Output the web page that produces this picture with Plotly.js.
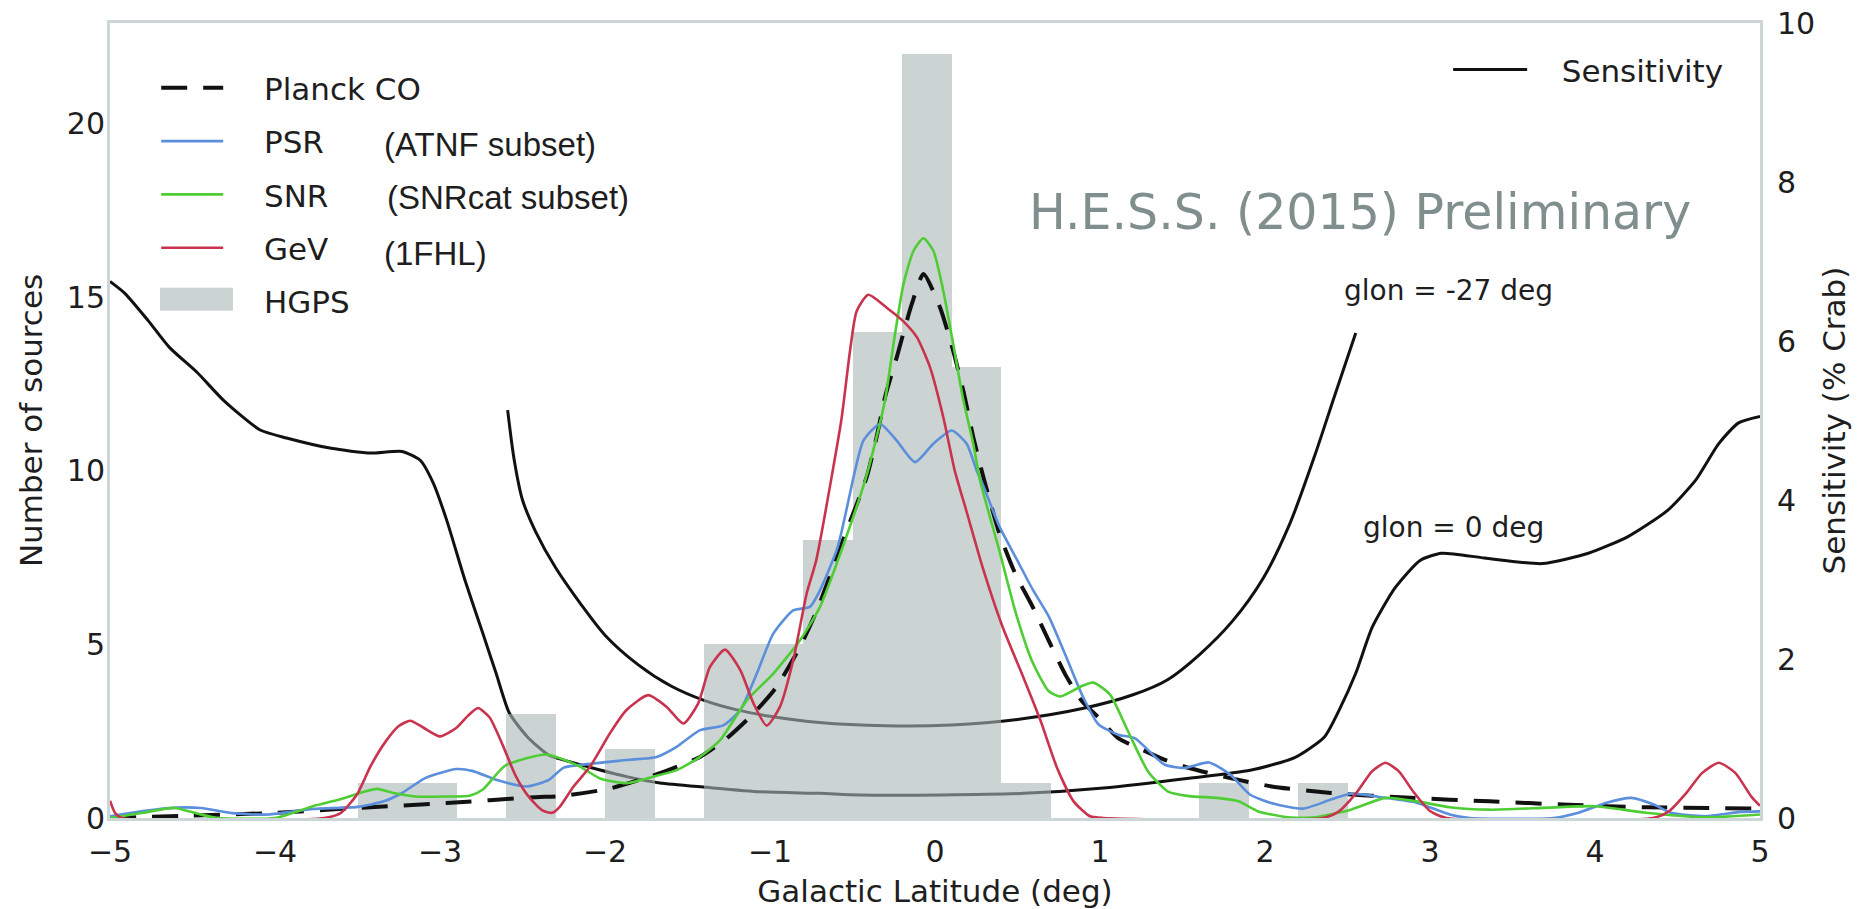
<!DOCTYPE html>
<html>
<head>
<meta charset="utf-8">
<script src="https://cdn.plot.ly/plotly-3.0.1.min.js"></script>
<style>
  html, body { margin: 0; padding: 0; background: #ffffff; }
  #chart { width: 1872px; height: 909px; }
</style>
</head>
<body>
<div id="chart"></div>
<script>
// HGPS source counts per 0.3 deg latitude bin (non-empty bins only, bin centres)
const hgpsLat = [-3.35, -3.05, -2.45, -1.85, -1.25, -0.95, -0.65, -0.35, -0.05, 0.25, 0.55, 1.75, 2.35];
const hgpsCount = [1, 1, 3, 2, 5, 5, 8, 14, 22, 13, 1, 1, 1];
const hgpsBinWidth = 0.3;

// Planck CO latitude profile (scaled to source counts)
const coLat = [-5, -4.5, -4.04, -3.5, -2.96, -2.42, -2.27, -1.97, -1.667, -1.424, -1.263, -1.1, -0.96, -0.818, -0.707, -0.55, -0.414, -0.354, -0.303, -0.232, -0.141, -0.07, 0.03, 0.11, 0.172, 0.232, 0.293, 0.39, 0.49, 0.59, 0.69, 0.79, 0.89, 0.99, 1.11, 1.24, 1.39, 1.54, 1.79, 2.04, 2.4, 2.88, 3.36, 3.84, 4.31, 5];
const coVal = [0, 0.07, 0.14, 0.29, 0.43, 0.6, 0.63, 0.85, 1.29, 1.76, 2.29, 3.01, 3.78, 4.93, 6.08, 8.1, 9.82, 10.97, 12.12, 13.27, 14.8, 15.67, 14.71, 13.46, 12.3, 10.97, 9.82, 8.2, 7.0, 6.1, 5.1, 4.13, 3.37, 2.9, 2.3, 2.0, 1.68, 1.44, 1.15, 0.91, 0.72, 0.58, 0.48, 0.38, 0.31, 0.27];

// Pulsars (ATNF subset)
const psrLat = [-5, -4.8, -4.6, -4.45, -4.26, -4.04, -3.77, -3.5, -3.34, -3.23, -3.09, -2.9, -2.8, -2.66, -2.47, -2.34, -2.25, -2.07, -1.869, -1.687, -1.566, -1.424, -1.283, -1.18, -1.08, -0.98, -0.859, -0.758, -0.697, -0.59, -0.485, -0.434, -0.333, -0.232, -0.121, -0.01, 0.101, 0.192, 0.253, 0.29, 0.39, 0.49, 0.59, 0.69, 0.79, 0.89, 0.99, 1.11, 1.21, 1.39, 1.51, 1.66, 1.79, 1.91, 2.06, 2.23, 2.4, 2.52, 2.73, 2.92, 3.12, 3.24, 3.75, 3.9, 4.07, 4.22, 4.36, 4.46, 4.67, 4.87, 5];
const psrVal = [0.05, 0.2, 0.3, 0.29, 0.14, 0.1, 0.26, 0.32, 0.48, 0.72, 1.15, 1.41, 1.35, 1.1, 0.91, 1.1, 1.45, 1.57, 1.67, 1.76, 2.05, 2.53, 2.67, 3.11, 4.16, 5.31, 5.98, 6.08, 6.56, 7.8, 10.0, 10.87, 11.35, 10.87, 10.25, 10.78, 11.16, 10.78, 10.0, 9.6, 8.4, 7.5, 6.6, 5.8, 4.7, 3.56, 2.7, 2.4, 2.3, 1.54, 1.44, 1.6, 1.25, 0.67, 0.4, 0.27, 0.53, 0.7, 0.58, 0.44, 0.1, 0, 0, 0.15, 0.44, 0.58, 0.38, 0.15, 0.05, 0.17, 0.19];

// Supernova remnants (SNRcat subset)
const snrLat = [-5, -4.8, -4.61, -4.45, -4.35, -4.0, -3.77, -3.61, -3.45, -3.38, -3.28, -3.15, -2.96, -2.82, -2.74, -2.61, -2.47, -2.35, -2.273, -2.152, -2.03, -1.869, -1.707, -1.566, -1.424, -1.303, -1.14, -0.98, -0.818, -0.697, -0.56, -0.424, -0.374, -0.303, -0.242, -0.19, -0.13, -0.07, -0.01, 0.05, 0.11, 0.172, 0.232, 0.273, 0.39, 0.49, 0.59, 0.69, 0.76, 0.89, 0.96, 1.06, 1.16, 1.29, 1.41, 1.54, 1.71, 1.84, 1.96, 2.14, 2.3, 2.52, 2.73, 2.92, 3.12, 3.36, 3.72, 4.0, 4.31, 4.67, 5];
const snrVal = [0, 0.15, 0.29, 0.1, 0, 0, 0.34, 0.53, 0.77, 0.84, 0.72, 0.62, 0.62, 0.64, 0.82, 1.49, 1.73, 1.83, 1.72, 1.48, 1.14, 1.0, 1.19, 1.38, 1.76, 2.24, 3.39, 4.16, 5.12, 6.08, 7.8, 9.72, 10.59, 12.03, 13.95, 15.4, 16.34, 16.7, 16.34, 15.19, 13.66, 12.03, 10.78, 9.72, 7.7, 5.9, 4.5, 3.65, 3.5, 3.8, 3.9, 3.56, 2.6, 1.35, 0.77, 0.63, 0.58, 0.48, 0.19, 0.02, 0.02, 0.24, 0.58, 0.48, 0.31, 0.24, 0.3, 0.34, 0.15, 0.02, 0.1];

// GeV sources (1FHL)
const gevLat = [-5, -4.97, -4.93, -3.7, -3.6, -3.5, -3.42, -3.33, -3.25, -3.18, -3.1, -3.0, -2.9, -2.83, -2.77, -2.7, -2.62, -2.54, -2.46, -2.38, -2.32, -2.273, -2.192, -2.09, -1.97, -1.87, -1.738, -1.626, -1.525, -1.435, -1.364, -1.273, -1.18, -1.1, -1.02, -0.94, -0.859, -0.778, -0.72, -0.62, -0.565, -0.515, -0.475, -0.404, -0.293, -0.19, -0.11, -0.03, 0.05, 0.12, 0.19, 0.29, 0.41, 0.54, 0.64, 0.74, 0.84, 0.94, 1.02, 2.35, 2.45, 2.55, 2.65, 2.73, 2.81, 2.9, 3.0, 3.1, 4.35, 4.45, 4.55, 4.65, 4.75, 4.85, 4.95, 5];
const gevVal = [0.5, 0.15, 0, 0, 0.15, 0.7, 1.5, 2.2, 2.65, 2.8, 2.6, 2.35, 2.6, 2.95, 3.17, 2.9, 2.1, 1.2, 0.6, 0.22, 0.15, 0.33, 0.9, 1.48, 2.44, 3.11, 3.54, 3.2, 2.72, 3.3, 4.35, 4.85, 4.26, 3.3, 2.66, 3.2, 4.55, 6.46, 7.42, 10.0, 11.55, 13.46, 14.6, 15.07, 14.7, 14.3, 13.85, 12.98, 11.55, 10.0, 8.85, 7.2, 5.5, 4.0, 2.8, 1.44, 0.48, 0.05, 0, 0, 0.2, 0.7, 1.35, 1.59, 1.35, 0.75, 0.2, 0, 0, 0.2, 0.7, 1.3, 1.59, 1.3, 0.6, 0.35];

// Survey sensitivity (% Crab) at two longitudes
const sens0Lat = [-5, -4.91, -4.77, -4.64, -4.47, -4.31, -4.09, -3.93, -3.66, -3.42, -3.23, -3.12, -3.04, -2.96, -2.85, -2.74, -2.66, -2.58, -2.47, -2.34, -2.2, -2.07, -1.869, -1.667, -1.384, -1.06, -0.697, -0.46, 0.04, 0.54, 1.04, 1.54, 1.91, 2.18, 2.36, 2.45, 2.55, 2.65, 2.79, 2.94, 3.07, 3.33, 3.68, 3.96, 4.2, 4.44, 4.61, 4.75, 4.87, 5];
const sens0Val = [6.75, 6.6, 6.26, 5.92, 5.6, 5.25, 4.88, 4.78, 4.65, 4.59, 4.61, 4.5, 4.21, 3.75, 3.0, 2.32, 1.82, 1.32, 1.02, 0.79, 0.7, 0.625, 0.52, 0.44, 0.386, 0.33, 0.31, 0.29, 0.29, 0.31, 0.38, 0.5, 0.6, 0.76, 1.02, 1.36, 1.82, 2.4, 2.9, 3.24, 3.33, 3.27, 3.2, 3.33, 3.54, 3.87, 4.25, 4.71, 4.97, 5.05];

const sens27Lat = [-2.59, -2.55, -2.5, -2.42, -2.3, -2.15, -2.0, -1.8, -1.6, -1.4, -1.2, -1.0, -0.7, -0.3, 0.1, 0.5, 0.9, 1.2, 1.41, 1.6, 1.8, 1.99, 2.15, 2.3, 2.42, 2.55];
const sens27Val = [5.13, 4.5, 4.0, 3.6, 3.15, 2.7, 2.3, 1.93, 1.66, 1.48, 1.36, 1.28, 1.2, 1.16, 1.17, 1.24, 1.38, 1.55, 1.74, 2.05, 2.47, 3.02, 3.7, 4.55, 5.3, 6.1];

const latTicks = [-5, -4, -3, -2, -1, 0, 1, 2, 3, 4, 5];
const countTicks = [0, 5, 10, 15, 20];
const sensTicks = [0, 2, 4, 6, 8, 10];

const FONT = 'DejaVu Sans, sans-serif';
const ARIAL = 'Liberation Sans, Arial, sans-serif';
const TXT = '#1e1e1e';
const pad = '\u00a0\u00a0\u00a0\u2009';
const pad2 = '\u00a0\u00a0\u00a0';

const traces = [
  { // sensitivity, glon = 0 deg
    x: sens0Lat, y: sens0Val, yaxis: 'y', type: 'scatter', mode: 'lines',
    name: pad2 + 'Sensitivity', legend: 'legend2', showlegend: true,
    line: { color: '#111111', width: 3, shape: 'spline', smoothing: 0.6 },
    hoverinfo: 'skip'
  },
  { // sensitivity, glon = -27 deg
    x: sens27Lat, y: sens27Val, yaxis: 'y', type: 'scatter', mode: 'lines',
    name: 'Sensitivity (glon = -27 deg)', legend: 'legend2', showlegend: false,
    line: { color: '#111111', width: 3, shape: 'spline', smoothing: 0.8 },
    hoverinfo: 'skip'
  },
  {
    x: hgpsLat, y: hgpsCount, width: hgpsBinWidth, yaxis: 'y2', type: 'bar',
    name: 'HGPS bars', showlegend: false, opacity: 0.6,
    marker: { color: 'rgb(170,182,182)', line: { width: 0 } },
    hoverinfo: 'skip'
  },
  {
    x: coLat, y: coVal, yaxis: 'y2', type: 'scatter', mode: 'lines',
    name: pad + 'Planck CO', legendgroup: 'co', legendrank: 1,
    line: { color: '#111111', width: 4, dash: '26px,16px', shape: 'spline', smoothing: 0.6 }
  },
  {
    x: psrLat, y: psrVal, yaxis: 'y2', type: 'scatter', mode: 'lines',
    name: pad + 'PSR', legendgroup: 'psr', legendrank: 2,
    line: { color: '#5b8fdc', width: 2.6, shape: 'spline', smoothing: 0.6 }
  },
  {
    x: snrLat, y: snrVal, yaxis: 'y2', type: 'scatter', mode: 'lines',
    name: pad + 'SNR', legendgroup: 'snr', legendrank: 3,
    line: { color: '#4fcd35', width: 2.6, shape: 'spline', smoothing: 0.6 }
  },
  {
    x: gevLat, y: gevVal, yaxis: 'y2', type: 'scatter', mode: 'lines',
    name: pad + 'GeV', legendgroup: 'gev', legendrank: 4,
    line: { color: '#c9334d', width: 2.6, shape: 'spline', smoothing: 0.6 }
  },
  { // legend entry for the histogram; its patch is drawn as a shape
    x: [null], y: [null], yaxis: 'y2', type: 'scatter', mode: 'lines',
    name: pad + 'HGPS', legendgroup: 'hgps', legendrank: 5,
    line: { color: 'rgba(0,0,0,0)', width: 1 }, hoverinfo: 'skip'
  }
];

const frameColor = '#cdd6d6';

const layout = {
  width: 1872, height: 909,
  margin: { l: 110, r: 112, t: 23, b: 91, pad: 0 },
  paper_bgcolor: '#ffffff', plot_bgcolor: '#ffffff',
  font: { family: FONT, size: 30, color: TXT },
  showlegend: true,
  barmode: 'overlay', bargap: 0,
  xaxis: {
    range: [-5, 5], tickvals: latTicks, ticks: '', showgrid: false, zeroline: false,
    showline: true, mirror: true, linecolor: frameColor, linewidth: 3,
    tickfont: { family: FONT, size: 30, color: TXT }, ticklabelstandoff: 5,
    title: { text: 'Galactic Latitude (deg)', font: { family: FONT, size: 31, color: TXT }, standoff: 14 },
    automargin: false
  },
  yaxis: {
    range: [0, 10], tickvals: sensTicks, side: 'right', ticks: '', showgrid: false, zeroline: false,
    showline: true, mirror: true, linecolor: frameColor, linewidth: 3,
    tickfont: { family: FONT, size: 30, color: TXT }, ticklabelstandoff: 8,
    title: { text: 'Sensitivity (% Crab)', font: { family: FONT, size: 31, color: TXT }, standoff: 10 },
    automargin: false
  },
  yaxis2: {
    range: [0, 22.9], tickvals: countTicks, overlaying: 'y', side: 'left', anchor: 'x',
    ticks: '', showgrid: false, zeroline: false, showline: false,
    tickfont: { family: FONT, size: 30, color: TXT }, ticklabelstandoff: 4,
    title: { text: 'Number of sources', font: { family: FONT, size: 31, color: TXT }, standoff: 14 },
    automargin: false
  },
  legend: {
    x: 0.028, y: 0.952, xanchor: 'left', yanchor: 'top',
    bgcolor: 'rgba(0,0,0,0)', borderwidth: 0,
    font: { family: FONT, size: 31, color: TXT },
    traceorder: 'grouped', tracegroupgap: 10, itemwidth: 62,
    itemclick: false, itemdoubleclick: false
  },
  legend2: {
    x: 0.811, y: 0.975, xanchor: 'left', yanchor: 'top',
    bgcolor: 'rgba(0,0,0,0)', borderwidth: 0,
    font: { family: FONT, size: 31, color: TXT },
    itemwidth: 74, itemclick: false, itemdoubleclick: false
  },
  shapes: [
    { // HGPS legend patch
      type: 'rect', xref: 'paper', yref: 'paper', layer: 'above',
      x0: 0.0303, x1: 0.0745, y0: 0.638, y1: 0.667,
      fillcolor: 'rgb(204,211,211)', line: { width: 0 }
    }
  ],
  annotations: [
    { text: '(ATNF subset)', x: 0.1648, y: 0.847, xref: 'paper', yref: 'paper', xanchor: 'left', yanchor: 'middle', showarrow: false,
      font: { family: ARIAL, size: 33, color: TXT } },
    { text: '(SNRcat subset)', x: 0.1667, y: 0.781, xref: 'paper', yref: 'paper', xanchor: 'left', yanchor: 'middle', showarrow: false,
      font: { family: ARIAL, size: 33, color: TXT } },
    { text: '(1FHL)', x: 0.1648, y: 0.710, xref: 'paper', yref: 'paper', xanchor: 'left', yanchor: 'middle', showarrow: false,
      font: { family: ARIAL, size: 33, color: TXT } },
    { text: 'H.E.S.S. (2015) Preliminary', x: 0.9594, y: 0.762, xref: 'paper', yref: 'paper', xanchor: 'right', yanchor: 'middle', showarrow: false,
      font: { family: FONT, size: 49, color: 'rgb(128,142,142)' } },
    { text: 'glon = -27 deg', x: 0.7467, y: 0.664, xref: 'paper', yref: 'paper', xanchor: 'left', yanchor: 'middle', showarrow: false,
      font: { family: FONT, size: 28, color: TXT } },
    { text: 'glon = 0 deg', x: 0.758, y: 0.365, xref: 'paper', yref: 'paper', xanchor: 'left', yanchor: 'middle', showarrow: false,
      font: { family: FONT, size: 28, color: TXT } }
  ]
};

Plotly.newPlot('chart', traces, layout, { staticPlot: true, displayModeBar: false });
</script>
</body>
</html>
